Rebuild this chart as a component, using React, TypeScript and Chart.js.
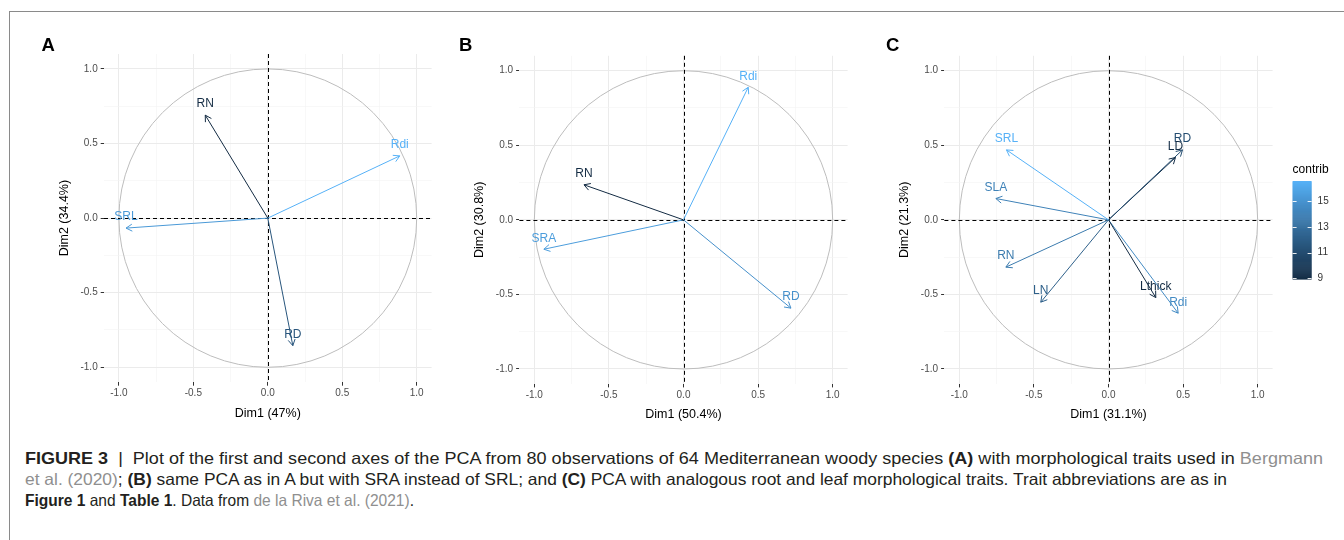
import React, { useEffect, useLayoutEffect, useRef } from 'react';
import { Chart, registerables } from 'chart.js';

Chart.register(...registerables);

const FONT = '"Liberation Sans", Arial, Helvetica, sans-serif';
Chart.defaults.font.family = FONT;

// ---------- data ----------
const GRID_TICKS = [-1, -0.75, -0.5, -0.25, 0, 0.25, 0.5, 0.75, 1];

// Panel A
const varsA = ['RN', 'Rdi', 'SRL', 'RD'];
const dim1A = [-0.42, 0.886, -0.952, 0.168];
const dim2A = [0.69, 0.417, -0.067, -0.855];
const contribA = [19.9, 29.2, 27.7, 23.1];
const xTitleA = 'Dim1 (47%)';
const yTitleA = 'Dim2 (34.4%)';

// Panel B
const varsB = ['Rdi', 'RN', 'SRA', 'RD'];
const dim1B = [0.434, -0.667, -0.936, 0.72];
const dim2B = [0.889, 0.235, -0.197, -0.592];
const contribB = [30.0, 15.4, 28.0, 26.7];
const xTitleB = 'Dim1 (50.4%)';
const yTitleB = 'Dim2 (30.8%)';

// Panel C
const varsC = ['SRL', 'SLA', 'RN', 'LN', 'RD', 'LD', 'Lthick', 'Rdi'];
const dim1C = [-0.684, -0.755, -0.688, -0.454, 0.496, 0.449, 0.317, 0.467];
const dim2C = [0.469, 0.143, -0.317, -0.552, 0.469, 0.418, -0.521, -0.626];
const contribC = [16.6, 14.1, 13.7, 12.2, 11.1, 9.1, 8.95, 14.6];
const xTitleC = 'Dim1 (31.1%)';
const yTitleC = 'Dim2 (21.3%)';
const legendTicksC = [9, 11, 13, 15];
const legendTitleC = 'contrib';

// ---------- colour gradient (ggplot default, Lab interpolation) ----------
const LOW = [0x13, 0x2b, 0x43];
const HIGH = [0x56, 0xb1, 0xf7];
const Xn = 0.95047, Yn = 1, Zn = 1.08883;
function lin(c: number) { c /= 255; return c <= 0.04045 ? c / 12.92 : Math.pow((c + 0.055) / 1.055, 2.4); }
function delin(c: number) {
  const v = c <= 0.0031308 ? 12.92 * c : 1.055 * Math.pow(c, 1 / 2.4) - 0.055;
  return Math.round(Math.max(0, Math.min(1, v)) * 255);
}
function fLab(t: number) { return t > 0.008856 ? Math.cbrt(t) : 7.787 * t + 16 / 116; }
function fInv(t: number) { return t > 0.206893 ? t * t * t : (t - 16 / 116) / 7.787; }
function toLab(rgb: number[]) {
  const [r, g, b] = rgb.map(lin);
  const X = 0.4124 * r + 0.3576 * g + 0.1805 * b;
  const Y = 0.2126 * r + 0.7152 * g + 0.0722 * b;
  const Z = 0.0193 * r + 0.1192 * g + 0.9505 * b;
  const fx = fLab(X / Xn), fy = fLab(Y / Yn), fz = fLab(Z / Zn);
  return [116 * fy - 16, 500 * (fx - fy), 200 * (fy - fz)];
}
function fromLab([L, a, b]: number[]) {
  const fy = (L + 16) / 116, fx = fy + a / 500, fz = fy - b / 200;
  const X = Xn * fInv(fx), Y = Yn * fInv(fy), Z = Zn * fInv(fz);
  const r = 3.2406 * X - 1.5372 * Y - 0.4986 * Z;
  const g = -0.9689 * X + 1.8758 * Y + 0.0415 * Z;
  const bb = 0.0557 * X - 0.204 * Y + 1.057 * Z;
  return [delin(r), delin(g), delin(bb)];
}
const LAB_LOW = toLab(LOW), LAB_HIGH = toLab(HIGH);
function gradient(t: number) {
  const tt = Math.max(0, Math.min(1, t));
  const c = fromLab(LAB_LOW.map((v, i) => v + (LAB_HIGH[i] - v) * tt));
  return `rgb(${c[0]},${c[1]},${c[2]})`;
}

const isMajor = (v: number) => Math.abs(v * 2 - Math.round(v * 2)) < 1e-6;

type Geom = {
  left: number; width: number; height: number;
  pad: { left: number; right: number; top: number; bottom: number };
  yAxisW: number; xAxisH: number;
};

type PanelProps = {
  vars: string[]; d1: number[]; d2: number[]; contrib: number[];
  xTitle: string; yTitle: string; geom: Geom;
  legendTicks?: number[]; legendTitle?: string;
};

function PcaPanel({ vars, d1, d2, contrib, xTitle, yTitle, geom, legendTicks, legendTitle }: PanelProps) {
  const ref = useRef<HTMLCanvasElement>(null);
  useEffect(() => {
    const canvas = ref.current;
    if (!canvas) return;
    const cmin = Math.min(...contrib), cmax = Math.max(...contrib);
    const norm = (v: number) => (v - cmin) / (cmax - cmin);
    const colors = contrib.map((v) => gradient(norm(v)));

    const decor = {
      id: 'pcaDecor',
      beforeDatasetsDraw(chart: any) {
        const { ctx, chartArea, scales: { x, y } } = chart;
        const cx = x.getPixelForValue(0), cy = y.getPixelForValue(0);
        const rx = x.getPixelForValue(1) - cx, ry = cy - y.getPixelForValue(1);
        ctx.save();
        ctx.strokeStyle = '#BDBDBD';
        ctx.lineWidth = 1;
        ctx.beginPath();
        ctx.ellipse(cx, cy, rx, ry, 0, 0, Math.PI * 2);
        ctx.stroke();
        ctx.strokeStyle = '#000';
        ctx.setLineDash([4, 3]);
        ctx.beginPath();
        ctx.moveTo(chartArea.left, Math.round(cy) + 0.5);
        ctx.lineTo(chartArea.right, Math.round(cy) + 0.5);
        ctx.moveTo(Math.round(cx) + 0.5, chartArea.top);
        ctx.lineTo(Math.round(cx) + 0.5, chartArea.bottom);
        ctx.stroke();
        ctx.restore();
      },
      afterDatasetsDraw(chart: any) {
        const { ctx } = chart;
        const L = 7, a = Math.PI / 6;
        const tips: { x: number; y: number; label: string; color: string }[] = [];
        chart.data.datasets.forEach((ds: any, i: number) => {
          const meta = chart.getDatasetMeta(i);
          const p0 = meta.data[0], p1 = meta.data[1];
          const ang = Math.atan2(p1.y - p0.y, p1.x - p0.x);
          ctx.save();
          ctx.strokeStyle = colors[i];
          ctx.lineWidth = 1;
          ctx.beginPath();
          ctx.moveTo(p1.x - L * Math.cos(ang - a), p1.y - L * Math.sin(ang - a));
          ctx.lineTo(p1.x, p1.y);
          ctx.lineTo(p1.x - L * Math.cos(ang + a), p1.y - L * Math.sin(ang + a));
          ctx.stroke();
          ctx.restore();
          tips.push({ x: p1.x, y: p1.y, label: ds.label, color: colors[i] });
        });
        ctx.save();
        ctx.font = `12px ${FONT}`;
        ctx.textAlign = 'center';
        ctx.textBaseline = 'middle';
        tips.forEach((t) => {
          ctx.fillStyle = t.color;
          ctx.fillText(t.label, t.x, t.y - 11);
        });
        ctx.restore();
      },
      afterDraw(chart: any) {
        if (!legendTicks) return;
        const { ctx, chartArea } = chart;
        const bx = chartArea.right + 20, bw = 19;
        const byTop = 181, byBot = 279;
        const vy = (v: number) => byBot - norm(v) * (byBot - byTop);
        ctx.save();
        const steps = 100;
        for (let s = 0; s < steps; s++) {
          const t0 = s / steps, t1 = (s + 1) / steps;
          ctx.fillStyle = gradient((t0 + t1) / 2);
          const yTop = byBot - t1 * (byBot - byTop);
          ctx.fillRect(bx, yTop, bw, (byBot - byTop) / steps + 0.6);
        }
        ctx.strokeStyle = 'rgba(255,255,255,0.9)';
        ctx.lineWidth = 1;
        ctx.fillStyle = '#333';
        ctx.font = `10px ${FONT}`;
        ctx.textAlign = 'left';
        ctx.textBaseline = 'middle';
        legendTicks.forEach((v) => {
          const yy = Math.round(vy(v)) + 0.5;
          ctx.beginPath();
          ctx.moveTo(bx, yy); ctx.lineTo(bx + 4, yy);
          ctx.moveTo(bx + bw - 4, yy); ctx.lineTo(bx + bw, yy);
          ctx.stroke();
          ctx.fillText(String(v), bx + bw + 6, vy(v));
        });
        ctx.fillStyle = '#000';
        ctx.font = `12px ${FONT}`;
        ctx.fillText(legendTitle || '', bx, 170);
        ctx.restore();
      },
    };

    const gridColor = (c: any) => (c.tick && !isMajor(c.tick.value) ? '#F3F3F3' : '#EBEBEB');
    const gridWidth = (c: any) => (c.tick && !isMajor(c.tick.value) ? 0.6 : 1);
    const tickColor = (c: any) => (c.tick && isMajor(c.tick.value) ? '#333333' : 'rgba(0,0,0,0)');
    const tickLabel = (v: any) => (isMajor(Number(v)) ? Number(v).toFixed(1) : '');
    const setTicks = (s: any) => { s.ticks = GRID_TICKS.map((v) => ({ value: v })); };

    const chart = new Chart(canvas, {
      type: 'scatter',
      data: {
        datasets: vars.map((v, i) => ({
          label: v,
          data: [{ x: 0, y: 0 }, { x: d1[i], y: d2[i] }],
          showLine: true,
          borderColor: colors[i],
          backgroundColor: colors[i],
          borderWidth: 1,
          pointRadius: 0,
          pointHoverRadius: 0,
          fill: false,
        })),
      },
      options: {
        animation: false,
        responsive: false,
        maintainAspectRatio: false,
        events: [],
        layout: { padding: geom.pad },
        plugins: { legend: { display: false }, tooltip: { enabled: false } },
        scales: {
          x: {
            type: 'linear',
            min: -1.1,
            max: 1.1,
            afterBuildTicks: setTicks,
            afterFit: (s: any) => { s.height = geom.xAxisH; },
            border: { display: false },
            grid: { color: gridColor, lineWidth: gridWidth, tickColor, tickWidth: 1, tickLength: 3.5, drawTicks: true },
            ticks: { callback: tickLabel, autoSkip: false, maxRotation: 0, minRotation: 0, padding: 2, color: '#4D4D4D', font: { size: 10, family: FONT } },
            title: { display: true, text: xTitle, color: '#000', font: { size: 12.5, family: FONT }, padding: 0 },
          },
          y: {
            type: 'linear',
            min: -1.1,
            max: 1.1,
            afterBuildTicks: setTicks,
            afterFit: (s: any) => { s.width = geom.yAxisW; },
            border: { display: false },
            grid: { color: gridColor, lineWidth: gridWidth, tickColor, tickWidth: 1, tickLength: 3.3, drawTicks: true },
            ticks: { callback: tickLabel, autoSkip: false, padding: 3, color: '#4D4D4D', font: { size: 10, family: FONT } },
            title: { display: true, text: yTitle, color: '#000', font: { size: 12.5, family: FONT }, padding: 0 },
          },
        },
      } as any,
      plugins: [decor],
    });
    return () => chart.destroy();
  }, []);
  return (
    <canvas
      ref={ref}
      width={geom.width}
      height={geom.height}
      style={{ position: 'absolute', left: geom.left, top: 0, width: geom.width, height: geom.height }}
    />
  );
}

const geomA: Geom = { left: 0, width: 440, height: 440, pad: { left: 56.8, right: 8.4, top: 54, bottom: 19 }, yAxisW: 47.2, xAxisH: 38.8 };
const geomB: Geom = { left: 440, width: 440, height: 440, pad: { left: 31.8, right: 32.4, top: 55.8, bottom: 17.5 }, yAxisW: 47.6, xAxisH: 38.6 };
const geomC: Geom = { left: 880, width: 464, height: 440, pad: { left: 17.5, right: 71.4, top: 55.8, bottom: 17.5 }, yAxisW: 46.9, xAxisH: 38.6 };

const grey = { color: '#8f8f8f' };
const capLine: React.CSSProperties = { position: 'absolute', left: 25, whiteSpace: 'nowrap', fontSize: 16.5, lineHeight: '21px', color: '#231F20', transformOrigin: '0 50%' };
const letter: React.CSSProperties = { position: 'absolute', top: 36, fontSize: 18.5, lineHeight: '18.5px', fontWeight: 'bold', color: '#000' };

function FitLine({ top, target, children }: { top: number; target: number; children: React.ReactNode }) {
  const ref = useRef<HTMLDivElement>(null);
  useLayoutEffect(() => {
    const el = ref.current;
    if (!el) return;
    const w = el.getBoundingClientRect().width;
    if (w > 0) el.style.transform = `scaleX(${target / w})`;
  }, []);
  return (
    <div ref={ref} style={{ ...capLine, top }}>
      {children}
    </div>
  );
}

export default function App() {
  return (
    <div style={{ position: 'fixed', left: 0, top: 0, width: 1344, height: 540, overflow: 'hidden', background: '#fff', fontFamily: FONT }}>
      <div style={{ position: 'absolute', left: 9, top: 11, width: 1400, height: 600, borderLeft: '1px solid #8a8a8a', borderTop: '1px solid #8a8a8a' }} />
      <PcaPanel vars={varsA} d1={dim1A} d2={dim2A} contrib={contribA} xTitle={xTitleA} yTitle={yTitleA} geom={geomA} />
      <PcaPanel vars={varsB} d1={dim1B} d2={dim2B} contrib={contribB} xTitle={xTitleB} yTitle={yTitleB} geom={geomB} />
      <PcaPanel vars={varsC} d1={dim1C} d2={dim2C} contrib={contribC} xTitle={xTitleC} yTitle={yTitleC} geom={geomC} legendTicks={legendTicksC} legendTitle={legendTitleC} />
      <div style={{ ...letter, left: 41.5 }}>A</div>
      <div style={{ ...letter, left: 459 }}>B</div>
      <div style={{ ...letter, left: 886 }}>C</div>
      <FitLine top={447.5} target={1298}>
        <b>FIGURE 3</b>&nbsp; | &nbsp;Plot of the first and second axes of the PCA from 80 observations of 64 Mediterranean woody species <b>(A)</b> with morphological traits used in <span style={grey}>Bergmann</span>
      </FitLine>
      <FitLine top={468.5} target={1202}>
        <span style={grey}>et al. (2020)</span>; <b>(B)</b> same PCA as in A but with SRA instead of SRL; and <b>(C)</b> PCA with analogous root and leaf morphological traits. Trait abbreviations are as in
      </FitLine>
      <FitLine top={489.5} target={389}>
        <b>Figure 1</b> and <b>Table 1</b>. Data from <span style={grey}>de la Riva et al. (2021)</span>.
      </FitLine>
    </div>
  );
}
